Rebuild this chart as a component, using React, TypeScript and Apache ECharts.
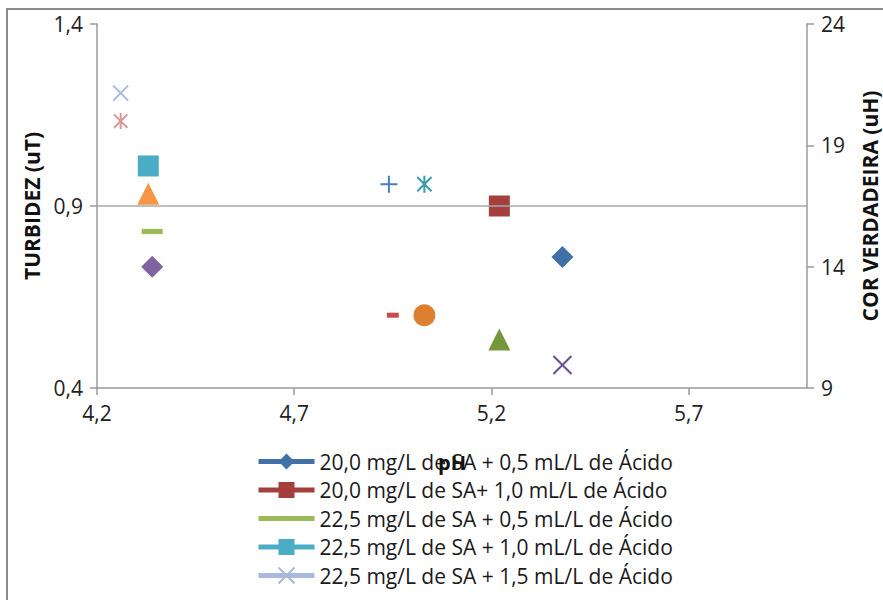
import React, { useEffect, useRef } from "react";
import * as echarts from "echarts";

// ---- data ----
const xTicks = [4.2, 4.7, 5.2, 5.7];
const leftTicks = [0.4, 0.9, 1.4];
const rightTicks = [9, 14, 19, 24];

const turbNames = [
  "20,0 mg/L de SA + 0,5 mL/L de Ácido",
  "20,0 mg/L de SA+ 1,0 mL/L de Ácido",
  "22,5 mg/L de SA + 0,5 mL/L de Ácido",
  "22,5 mg/L de SA + 1,0 mL/L de Ácido",
  "22,5 mg/L de SA + 1,5 mL/L de Ácido",
  "25,0 mg/L de SA + 0,5 mL/L de Ácido",
  "25,0 mg/L de SA + 1,0 mL/L de Ácido",
];
const phTurbidez = [5.38, 5.22, 4.34, 4.33, 4.26, 4.94, 5.03];
const turbidez = [0.76, 0.9, 0.83, 1.01, 1.21, 0.96, 0.96];

const corNames = [
  "Cor - 20,0 mg/L de SA + 0,5 mL/L de Ácido",
  "Cor - 20,0 mg/L de SA+ 1,0 mL/L de Ácido",
  "Cor - 22,5 mg/L de SA + 0,5 mL/L de Ácido",
  "Cor - 22,5 mg/L de SA + 1,0 mL/L de Ácido",
  "Cor - 22,5 mg/L de SA + 1,5 mL/L de Ácido",
  "Cor - 25,0 mg/L de SA + 0,5 mL/L de Ácido",
  "Cor - 25,0 mg/L de SA + 1,0 mL/L de Ácido",
];
const phCor = [5.38, 5.22, 4.34, 4.33, 4.26, 4.95, 5.03];
const corVerdadeira = [9.95, 11, 14, 17, 20, 12, 12];

const legendCount = 5;

// ---- styles ----
const X_PATH = "path://M0,0L10,10M10,0L0,10";
const AST_PATH = "path://M0,0L10,10M10,0L0,10M5,-1L5,11M-1,5L-1,5M11,5L11,5";
const PLUS_PATH = "path://M5,0L5,10M0,5L10,5";
const DASH_PATH = "path://M0,7.5L20,7.5L20,12.5L0,12.5Z M0,0L0,0 M0,20L0,20";

type Sty = { symbol: string; size: number | number[]; color: string; stroke?: boolean };
const turbStyles: Sty[] = [
  { symbol: "diamond", size: 22, color: "#4070A8" },
  { symbol: "rect", size: 21, color: "#A43F3D" },
  { symbol: DASH_PATH, size: 21, color: "#9BBB59" },
  { symbol: "rect", size: 21, color: "#4BACC6" },
  { symbol: X_PATH, size: 15, color: "#A7B9DC", stroke: true },
  { symbol: PLUS_PATH, size: 17, color: "#4A7EC0", stroke: true },
  { symbol: AST_PATH, size: 17, color: "#3B9BAB", stroke: true },
];
const corStyles: Sty[] = [
  { symbol: X_PATH, size: 18, color: "#6A5090", stroke: true },
  { symbol: "triangle", size: 22, color: "#76963C" },
  { symbol: "diamond", size: 22, color: "#8064A2" },
  { symbol: "triangle", size: 22, color: "#F79646" },
  { symbol: AST_PATH, size: 16, color: "#D99795", stroke: true },
  { symbol: "rect", size: [12, 5], color: "#C94C4A" },
  { symbol: "circle", size: 22, color: "#DC8030" },
];

const FONT = "'Open Sans', sans-serif";
const AXIS_COLOR = "#9a9a9a";
const fmt1 = (v: number) => v.toFixed(1).replace(".", ",");

function mkSeries(name: string, x: number, y: number, s: Sty, yAxisIndex: number) {
  return {
    type: "line",
    name,
    yAxisIndex,
    data: [[x, y]],
    symbol: s.symbol,
    symbolSize: s.size,
    showSymbol: true,
    silent: true,
    lineStyle: { color: s.color, width: 5 },
    itemStyle: s.stroke
      ? { color: s.color, borderColor: s.color, borderWidth: 2 }
      : { color: s.color, borderWidth: 0 },
    emphasis: { disabled: true },
  };
}

export default function App() {
  const ref = useRef<HTMLDivElement>(null);
  useEffect(() => {
    if (!ref.current) return;
    const chart = echarts.init(ref.current, undefined, { renderer: "svg" });
    const series: any[] = [];
    turbNames.forEach((n, i) => series.push(mkSeries(n, phTurbidez[i], turbidez[i], turbStyles[i], 0)));
    corNames.forEach((n, i) => series.push(mkSeries(n, phCor[i], corVerdadeira[i], corStyles[i], 1)));
    series[0].markLine = {
      silent: true,
      symbol: "none",
      label: { show: false },
      lineStyle: { color: "#a8a8a8", width: 1.5, type: "solid" },
      data: [{ yAxis: 0.9 }],
    };
    const axisLabel = { color: "#222", fontFamily: FONT, fontSize: 21 };
    chart.setOption({
      animation: false,
      backgroundColor: "#ffffff",
      grid: { left: 97, right: 76, top: 24, bottom: 212, containLabel: false, outerBoundsMode: "none" },
      xAxis: {
        type: "value",
        min: 4.2,
        max: 6.0,
        name: "pH",
        nameLocation: "middle",
        nameGap: 64,
        nameTextStyle: { fontFamily: FONT, fontWeight: "bold", fontSize: 20, color: "#111" },
        axisLine: { show: true, onZero: false, lineStyle: { color: AXIS_COLOR, width: 1.5 } },
        axisTick: { show: true, length: 7, customValues: xTicks, lineStyle: { color: AXIS_COLOR, width: 1.5 } },
        axisLabel: { ...axisLabel, margin: 14, customValues: xTicks, formatter: (v: number) => fmt1(v) },
        splitLine: { show: false },
      },
      yAxis: [
        {
          type: "value",
          position: "left",
          min: 0.4,
          max: 1.4,
          name: "TURBIDEZ (uT)",
          nameLocation: "middle",
          nameRotate: 90,
          nameGap: 55,
          nameTextStyle: { fontFamily: FONT, fontWeight: "bold", fontSize: 21, color: "#111" },
          axisLine: { show: true, onZero: false, lineStyle: { color: AXIS_COLOR, width: 1.5 } },
          axisTick: { show: true, length: 7, customValues: leftTicks, lineStyle: { color: AXIS_COLOR, width: 1.5 } },
          axisLabel: { ...axisLabel, margin: 14, customValues: leftTicks, formatter: (v: number) => fmt1(v) },
          splitLine: { show: false },
        },
        {
          type: "value",
          position: "right",
          min: 9,
          max: 24,
          name: "COR VERDADEIRA (uH)",
          nameLocation: "middle",
          nameRotate: 90,
          nameGap: 52,
          nameTextStyle: { fontFamily: FONT, fontWeight: "bold", fontSize: 21, color: "#111" },
          axisLine: { show: true, onZero: false, lineStyle: { color: AXIS_COLOR, width: 1.5 } },
          axisTick: { show: true, length: 7, customValues: rightTicks, lineStyle: { color: AXIS_COLOR, width: 1.5 } },
          axisLabel: { ...axisLabel, margin: 14, customValues: rightTicks, formatter: (v: number) => String(Math.round(v)) },
          splitLine: { show: false },
        },
      ],
      legend: {
        orient: "vertical",
        left: 256,
        top: 451,
        itemWidth: 56,
        itemHeight: 20,
        itemGap: 7.5,
        padding: 0,
        selectedMode: false,
        data: turbNames.slice(0, legendCount),
        lineStyle: { width: 5 },
        textStyle: { fontFamily: FONT, fontSize: 21, color: "#1a1a1a", lineHeight: 21 },
      },
      graphic: [
        {
          type: "rect",
          silent: true,
          shape: { x: 7, y: 9, width: 900, height: 620 },
          style: { fill: "none", stroke: "#8a8a8a", lineWidth: 2 },
        },
      ],
      series,
    });
    return () => chart.dispose();
  }, []);
  return (
    <div
      ref={ref}
      style={{ position: "absolute", left: 0, top: 0, width: 883, height: 600, background: "#fff" }}
    />
  );
}
